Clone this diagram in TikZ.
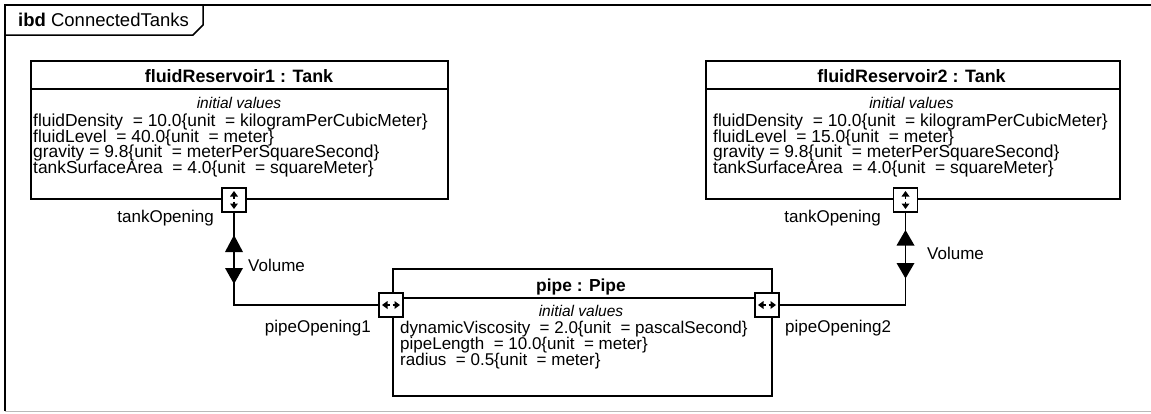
\documentclass[tikz,border=0pt]{standalone}
\usepackage{fontspec}
\setmainfont{Liberation Sans}
\usetikzlibrary{arrows.meta}
\newcommand\vportsym[1]{%
  \begin{scope}[shift={(#1.center)}]
    \fill (0,-9) -- (-4,-3.5) -- (4,-3.5) -- cycle;
    \draw[line width=1.4pt] (0,-4) -- (0,-1.5);
    \draw[line width=1.4pt] (0,1.5) -- (0,4);
    \fill (0,9) -- (-4,3.5) -- (4,3.5) -- cycle;
  \end{scope}}
\newcommand\hportsym[1]{%
  \begin{scope}[shift={(#1.center)}]
    \fill (-9,0) -- (-3.5,-4) -- (-3.5,4) -- cycle;
    \draw[line width=1.4pt] (-4,0) -- (-1.5,0);
    \draw[line width=1.4pt] (1.5,0) -- (4,0);
    \fill (9,0) -- (3.5,-4) -- (3.5,4) -- cycle;
  \end{scope}}
\begin{document}
\begin{tikzpicture}[x=1pt,y=-1pt,
  box/.style={draw, line width=1.8pt, inner sep=0pt, anchor=north west},
  port/.style={draw, fill=white, line width=1.8pt, minimum size=24pt, inner sep=0pt},
  conn/.style={draw, line width=1.8pt},
  attr/.style={font=\fontsize{17.4}{15}\selectfont, inner sep=0pt, anchor=base west},
  pattr/.style={font=\fontsize{17}{15}\selectfont, inner sep=0pt, anchor=base west},
  ttl/.style={font=\fontsize{17.9}{15}\selectfont\bfseries, inner sep=0pt, anchor=base},
  pttl/.style={font=\fontsize{17.4}{15}\selectfont\bfseries, inner sep=0pt, anchor=base},
  iv/.style={font=\fontsize{15.5}{15}\selectfont\itshape, inner sep=0pt, anchor=base},
  lbl/.style={font=\fontsize{17}{15}\selectfont, inner sep=0pt}]
\useasboundingbox (0,0) rectangle (1151,413);
% frame
\draw[line width=2pt] (5,411) -- (5,5) -- (1151,5);
\draw[gray!55, line width=1pt] (5,411.5) -- (1151,411.5);
\draw[line width=1.5pt] (5,35) -- (193,35) -- (203,25) -- (203,5);
\node[font=\fontsize{18.5}{15}\selectfont, inner sep=0pt, anchor=base west] (frm) at (18,26) {\textbf{ibd} ConnectedTanks};

% tank 1
\node[box, minimum width=417pt, minimum height=138pt] (t1) at (30,60) {};
\draw[line width=1.8pt] (30,89) -- (447,89);
\node[ttl] (t1t) at (239,82) {fluidReservoir1 : Tank};
\node[iv] (t1i) at (239,108) {initial values};
\node[attr] (t1a) at (33,126.5) {fluidDensity\ \ = 10.0\{unit\ \ = kilogramPerCubicMeter\}};
\node[attr] (t1b) at (33,142) {fluidLevel\ \ = 40.0\{unit\ \ = meter\}};
\node[attr] (t1c) at (33,157.5) {gravity = 9.8\{unit\ \ = meterPerSquareSecond\}};
\node[attr] (t1d) at (33,173) {tankSurfaceArea\ \ = 4.0\{unit\ \ = squareMeter\}};

% tank 2
\node[box, minimum width=414pt, minimum height=138pt] (t2) at (705,60) {};
\draw[line width=1.8pt] (705,89) -- (1119,89);
\node[ttl] (t2t) at (911.5,82) {fluidReservoir2 : Tank};
\node[iv] (t2i) at (911.5,108) {initial values};
\node[attr] (t2a) at (713,126.5) {fluidDensity\ \ = 10.0\{unit\ \ = kilogramPerCubicMeter\}};
\node[attr] (t2b) at (713,142) {fluidLevel\ \ = 15.0\{unit\ \ = meter\}};
\node[attr] (t2c) at (713,157.5) {gravity = 9.8\{unit\ \ = meterPerSquareSecond\}};
\node[attr] (t2d) at (713,173) {tankSurfaceArea\ \ = 4.0\{unit\ \ = squareMeter\}};

% pipe
\node[box, minimum width=379pt, minimum height=127pt] (pp) at (392,268) {};
\draw[line width=1.8pt] (392,298) -- (771,298);
\node[pttl] (ppt) at (581,291) {pipe : Pipe};
\node[iv] (ppi) at (581,316) {initial values};
\node[pattr] (ppa) at (400,333) {dynamicViscosity\ \ = 2.0\{unit\ \ = pascalSecond\}};
\node[pattr] (ppb) at (400,349) {pipeLength\ \ = 10.0\{unit\ \ = meter\}};
\node[pattr] (ppc) at (400,365) {radius\ \ = 0.5\{unit\ \ = meter\}};

% ports
\node[port] (p1) at (234,200) {};
\node[port] (p2) at (905.5,200) {};
\node[port] (q1) at (391,305) {};
\node[port] (q2) at (767,305) {};
\vportsym{p1}
\vportsym{p2}
\hportsym{q1}
\hportsym{q2}

% connectors
\draw[conn] (p1.south) |- (q1.west);
\draw[conn] (p2.south) |- (q2.east);

% item flow triangles
\fill (234,235) -- (225,252) -- (243,252) -- cycle;
\fill (225,268) -- (243,268) -- (234,284) -- cycle;
\fill (905.5,230) -- (896.5,245.5) -- (914.5,245.5) -- cycle;
\fill (896.5,263) -- (914.5,263) -- (905.5,278.5) -- cycle;

% labels
\node[lbl, anchor=base east] (l1) at (214,222) {tankOpening};
\node[lbl, anchor=base east] (l2) at (881,222) {tankOpening};
\node[lbl, anchor=base west] (v1) at (248,271) {Volume};
\node[lbl, anchor=base west] (v2) at (927,259) {Volume};
\node[lbl, anchor=base east] (o1) at (371,332) {pipeOpening1};
\node[lbl, anchor=base west] (o2) at (785,332) {pipeOpening2};
\end{tikzpicture}
\end{document}
